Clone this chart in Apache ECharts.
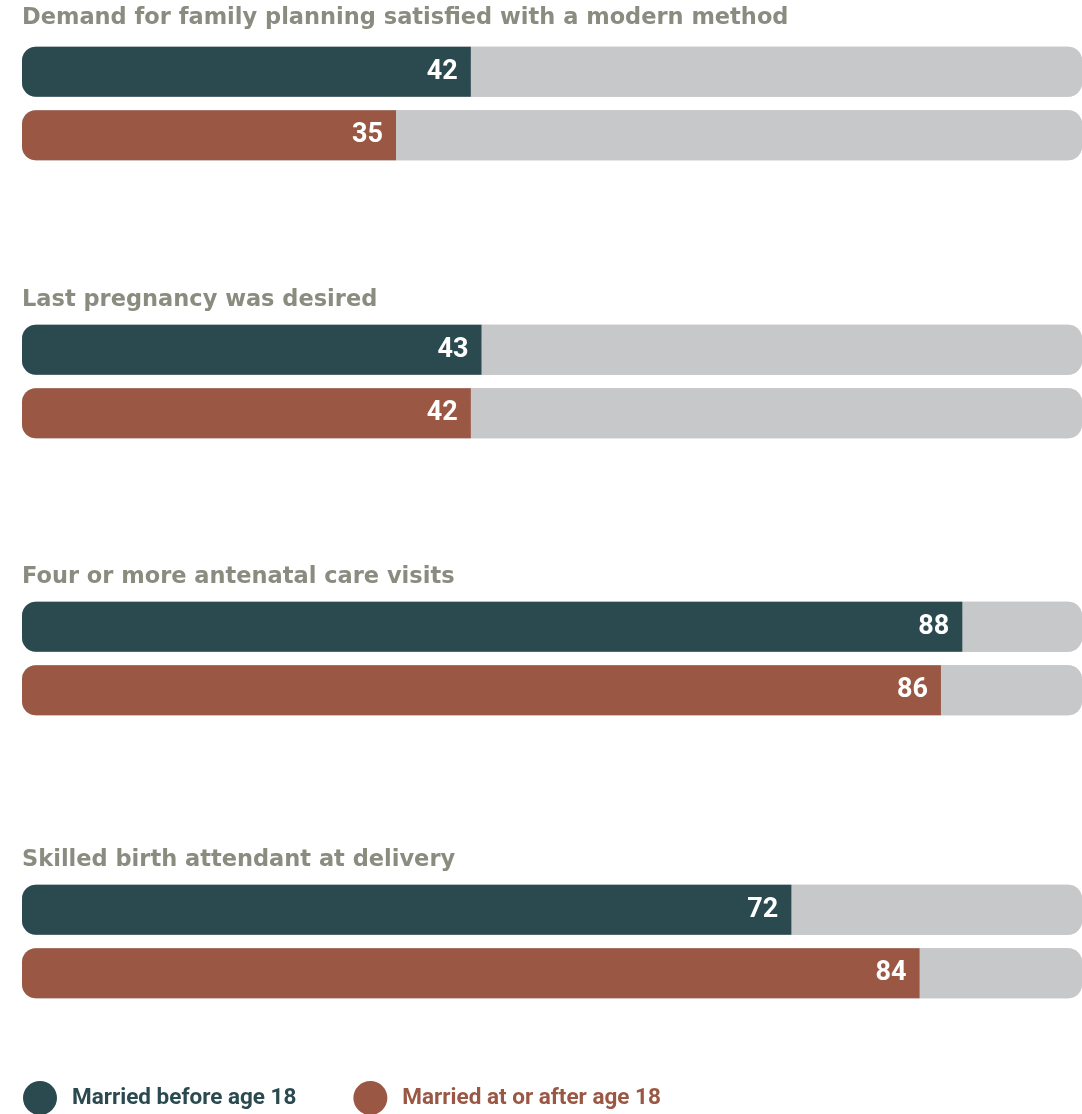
<!DOCTYPE html>
<html><head><meta charset="utf-8">
<script src="https://cdn.jsdelivr.net/npm/echarts@6/dist/echarts.min.js"></script>
<style>html,body{margin:0;padding:0;background:#fff}#c{width:1082px;height:1114px}</style>
</head><body><div id="c"></div>
<script>
const categories = ["Demand for family planning satisfied with a modern method","Last pregnancy was desired","Four or more antenatal care visits","Skilled birth attendant at delivery"];
const seriesNames = ["Married before age 18","Married at or after age 18"];
const before18 = [42, 43, 88, 72];
const after18 = [35, 42, 86, 84];

const colors = ["#2b4a50", "#9a5744"];
const barTops = [47, 325, 602, 885];
const titleTops = [7, 289, 566, 849];
const chart = echarts.init(document.getElementById('c'));
const grids = [], xAxes = [], yAxes = [], series = [], titles = [];
categories.forEach((cat, i) => {
  grids.push({left: 22, right: 0, top: barTops[i] - 7, height: 127});
  xAxes.push({type: 'value', gridIndex: i, min: 0, max: 99.2, show: false});
  yAxes.push({type: 'category', gridIndex: i, data: ['a', 'b'], inverse: true, show: false});
  titles.push({text: cat, left: 22, top: titleTops[i], padding: 0,
    textStyle: {fontFamily: 'DejaVu Sans', fontWeight: 'bold', fontSize: 22.5, color: '#8b8c80'}});
  [before18, after18].forEach((arr, k) => {
    const d = [null, null];
    d[k] = arr[i];
    series.push({
      type: 'bar', name: seriesNames[k], xAxisIndex: i, yAxisIndex: i,
      data: d, barWidth: 50, barGap: '-100%',
      showBackground: true,
      backgroundStyle: {color: '#c7c8ca', borderRadius: [14, 14, 14, 14]},
      itemStyle: {color: colors[k], borderRadius: [14, 0, 0, 14]},
      label: {show: true, position: 'insideRight', distance: 13, color: '#fff',
        fontFamily: 'Roboto', fontWeight: 'bold', fontSize: 27},
      silent: true
    });
  });
});
chart.setOption({
  animation: false,
  title: titles,
  grid: grids, xAxis: xAxes, yAxis: yAxes, series: series,
  legend: {
    left: 18, top: 1076, icon: 'circle', itemWidth: 34, itemHeight: 36, itemGap: 57,
    selectedMode: false,
    data: [
      {name: seriesNames[0], itemStyle: {color: colors[0]}, textStyle: {color: colors[0]}},
      {name: seriesNames[1], itemStyle: {color: colors[1]}, textStyle: {color: colors[1]}}
    ],
    textStyle: {fontFamily: 'Roboto', fontWeight: 'bold', fontSize: 22.5, padding: [0, 0, 0, 10]}
  }
});
</script></body></html>
